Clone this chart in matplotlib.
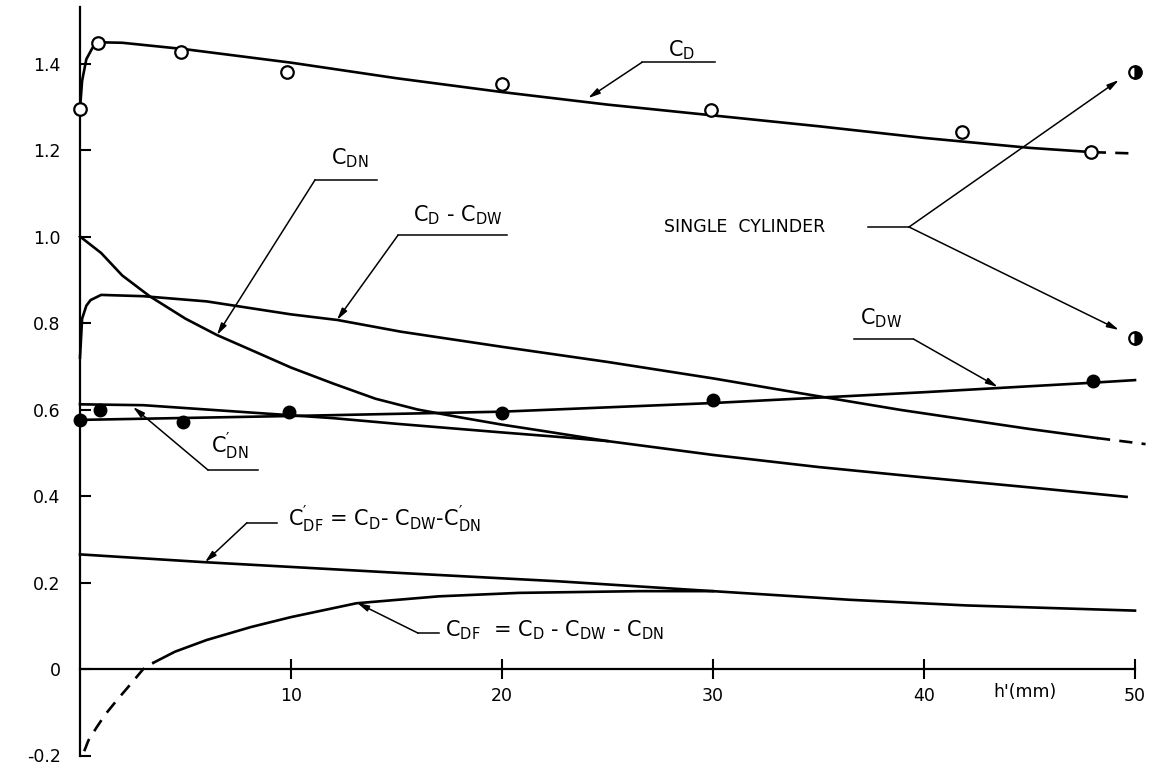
import numpy as np
import matplotlib.pyplot as plt

plt.rcParams['font.family'] = 'DejaVu Sans'
plt.rcParams['mathtext.default'] = 'regular'

# --- data (h' in mm) ---
# C_D measured points (open circles) and faired curve
cd_pts_x = [0, 0.85, 4.8, 9.8, 20, 29.9, 41.8, 47.9]
cd_pts_y = [1.295, 1.447, 1.427, 1.38, 1.352, 1.292, 1.242, 1.195]
cd_x = [0, 0.1, 0.3, 0.6, 1, 2, 5, 10, 15, 20, 25, 30, 35, 40, 45, 48]
cd_y = [1.295, 1.36, 1.41, 1.437, 1.449, 1.448, 1.433, 1.402, 1.366, 1.334, 1.305, 1.28, 1.255, 1.228, 1.205, 1.195]
cd_dash_x = [48, 50]
cd_dash_y = [1.195, 1.192]

# C_DW measured points (filled dots) and curve
cdw_pts_x = [0, 0.95, 4.9, 9.9, 20, 30, 48]
cdw_pts_y = [0.576, 0.599, 0.571, 0.594, 0.592, 0.622, 0.666]
cdw_x = [0, 10, 20, 30, 40, 48, 50]
cdw_y = [0.576, 0.585, 0.595, 0.615, 0.64, 0.662, 0.668]

# C_D - C_DW
cdmw_x = [0, 0.1, 0.3, 0.5, 1, 3, 6, 10, 12.2, 15.2, 20, 25, 30, 34.1, 38.9, 45, 48.2]
cdmw_y = [0.72, 0.81, 0.84, 0.853, 0.865, 0.862, 0.85, 0.82, 0.807, 0.78, 0.745, 0.71, 0.672, 0.638, 0.599, 0.555, 0.534]
cdmw_dash_x = [48.2, 50.5]
cdmw_dash_y = [0.534, 0.52]

# C_DN
cdn_x = [0, 1, 2, 3.3, 5, 6.5, 8, 10, 12, 14, 16, 18, 20, 22, 25, 30, 35, 40, 45, 49.6]
cdn_y = [1.0, 0.962, 0.91, 0.862, 0.81, 0.772, 0.74, 0.697, 0.66, 0.625, 0.6, 0.582, 0.565, 0.55, 0.527, 0.495, 0.467, 0.443, 0.42, 0.398]

# C'_DN
cdnp_x = [0, 3, 6, 9, 12, 15, 18, 20, 22.6, 25]
cdnp_y = [0.612, 0.61, 0.6, 0.59, 0.58, 0.567, 0.555, 0.547, 0.537, 0.527]

# C'_DF
cdfp_x = [0, 5.9, 10, 15.2, 22.6, 30, 36.5, 42, 50]
cdfp_y = [0.265, 0.247, 0.236, 0.222, 0.203, 0.18, 0.16, 0.147, 0.135]

# C_DF (dashed part near the wall)
cdf_dash_x = [0.2, 0.4, 0.8, 1.2, 1.75, 2.4, 3.0, 3.5]
cdf_dash_y = [-0.19, -0.165, -0.134, -0.105, -0.072, -0.035, 0.0, 0.015]
cdf_x = [3.5, 4.5, 6, 8.1, 10, 13.1, 17, 20.8, 26.5, 30]
cdf_y = [0.015, 0.04, 0.067, 0.097, 0.12, 0.152, 0.168, 0.176, 0.18, 0.18]

# single cylinder values at h' = 50
single_x = [50, 50]
single_y = [1.38, 0.765]

yticks = [-0.2, 0, 0.2, 0.4, 0.6, 0.8, 1.0, 1.2, 1.4]
ytick_labels = ['-0.2', '0', '0.2', '0.4', '0.6', '0.8', '1.0', '1.2', '1.4']
xticks = [10, 20, 30, 40, 50]
xtick_labels = ['10', '20', '30', '40', '50']

#%% figure
W, H = 1157, 769
fig = plt.figure(figsize=(W / 100, H / 100), dpi=100)
ax = fig.add_axes([80 / W, (H - 755.5) / H, 1055 / W, (755.5 - 7.3) / H])
ax.set_xlim(0, 50)
ax.set_ylim(-0.2, 1.53)

lw = 1.9
k = 'black'
dash = (0, (5, 3.5))
ax.plot(cd_x, cd_y, color=k, lw=lw, clip_on=False)
ax.plot(cd_dash_x, cd_dash_y, color=k, lw=lw, ls=dash, clip_on=False)
ax.plot(cdw_x, cdw_y, color=k, lw=lw, clip_on=False)
ax.plot(cdmw_x, cdmw_y, color=k, lw=lw, clip_on=False)
ax.plot(cdmw_dash_x, cdmw_dash_y, color=k, lw=lw, ls=dash, clip_on=False)
ax.plot(cdn_x, cdn_y, color=k, lw=lw, clip_on=False)
ax.plot(cdnp_x, cdnp_y, color=k, lw=lw, clip_on=False)
ax.plot(cdfp_x, cdfp_y, color=k, lw=lw, clip_on=False)
ax.plot(cdf_dash_x, cdf_dash_y, color=k, lw=lw, ls=dash, clip_on=False)
ax.plot(cdf_x, cdf_y, color=k, lw=lw, clip_on=False)

ax.plot(cd_pts_x, cd_pts_y, 'o', ms=9, mfc='white', mec=k, mew=1.6, clip_on=False, zorder=5)
ax.plot(cdw_pts_x, cdw_pts_y, 'o', ms=9, color=k, clip_on=False, zorder=5)
ax.plot(single_x, single_y, 'o', ms=9, fillstyle='right', mfc=k, mfcalt='white', mec=k,
        mew=1.6, clip_on=False, zorder=5)

# axes styling
for s in ['top', 'right']:
    ax.spines[s].set_visible(False)
ax.spines['bottom'].set_position(('data', 0))
ax.spines['bottom'].set_bounds(0, 50)
ax.spines['left'].set_bounds(-0.2, 1.53)
ax.spines['left'].set_linewidth(1.6)
ax.spines['bottom'].set_linewidth(1.6)
ax.set_yticks(yticks)
ax.set_yticklabels(ytick_labels)
ax.set_xticks(xticks)
ax.set_xticklabels(xtick_labels)
ax.tick_params(axis='y', direction='in', length=8, width=1.5, labelsize=12.5, pad=14)
ax.tick_params(axis='x', direction='inout', length=14, width=1.5, labelsize=12.5, pad=6)
ax.text(44.8, -0.053, "h'(mm)", fontsize=12.5, ha='center', va='center')

# leaders: label, arrow tip, corner, end of underline, label position
arrow = dict(arrowstyle='-|>,head_length=0.7,head_width=0.18', lw=1.1, color=k,
             shrinkA=0, shrinkB=0)
fs = 15

def leader(label, tip, corner, end, pos, ha='center', va='center'):
    ax.annotate('', xy=tip, xytext=corner, arrowprops=arrow, annotation_clip=False)
    ax.plot([corner[0], end[0]], [corner[1], corner[1]], color=k, lw=1.1, clip_on=False)
    ax.text(pos[0], pos[1], label, fontsize=fs, ha=ha, va=va)

leader('$C_D$', (24.08, 1.32), (26.64, 1.403), (30.1, 1.403), (28.5, 1.43))
leader('$C_{DN}$', (6.49, 0.772), (11.14, 1.131), (14.08, 1.131), (12.8, 1.18))
leader('$C_D$ - $C_{DW}$', (12.18, 0.807), (15.07, 1.003), (20.24, 1.003), (17.9, 1.05))
leader('$C_{DW}$', (43.5, 0.652), (39.5, 0.763), (36.7, 0.763), (37.96, 0.81))
leader("$C^{\\prime}_{DN}$", (2.51, 0.606), (6.07, 0.46), (8.44, 0.46), (7.1, 0.515))
leader("$C^{\\prime}_{DF}$ = $C_D$- $C_{DW}$-$C^{\\prime}_{DN}$", (5.92, 0.247), (7.91, 0.338),
       (9.34, 0.338), (9.86, 0.345), ha='left')
leader('$C_{DF}$  = $C_D$ - $C_{DW}$ - $C_{DN}$', (13.13, 0.153), (16.02, 0.083), (17.0, 0.083),
       (17.3, 0.09), ha='left')

# single cylinder callout
ax.text(31.5, 1.022, 'SINGLE  CYLINDER', fontsize=12.5, ha='center', va='center')
ax.plot([37.35, 39.29], [1.022, 1.022], color=k, lw=1.1)
ax.annotate('', xy=(49.24, 1.362), xytext=(39.29, 1.022), arrowprops=arrow, annotation_clip=False)
ax.annotate('', xy=(49.24, 0.784), xytext=(39.29, 1.022), arrowprops=arrow, annotation_clip=False)

fig.savefig('out.png', dpi=100)
